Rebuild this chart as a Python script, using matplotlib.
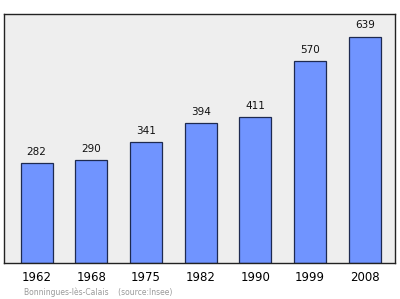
import matplotlib
matplotlib.use('Agg')
import matplotlib.pyplot as plt

years = ['1962', '1968', '1975', '1982', '1990', '1999', '2008']
population = [282, 290, 341, 394, 411, 570, 639]
caption = 'Bonningues-lès-Calais    (source:Insee)'

fig = plt.figure(figsize=(4.0, 2.99), dpi=100)
ax = fig.add_axes([4 / 400, 1 - 263 / 299, 391 / 400, 249 / 299])
ax.set_facecolor('#eeeeee')

pos = list(range(len(years)))
ax.bar(pos, population, width=0.585, color='#7094ff', edgecolor='#1e2a50', linewidth=0.9, zorder=2)
for x, v in zip(pos, population):
    ax.text(x, v + 18, str(v), ha='center', va='bottom', fontsize=7.5, color='#111111')

ax.set_xlim(-0.594, 6.55)
ax.set_ylim(0, 703)
ax.set_yticks([])
ax.set_xticks(pos)
ax.set_xticklabels(years, fontsize=8.5)
ax.tick_params(axis='x', length=0, pad=6)
for s in ax.spines.values():
    s.set_color('#222222')
    s.set_linewidth(1.0)

fig.text(24 / 400, 1 - 292 / 299, caption, fontsize=5.5, color='#999999', va='center', ha='left')

fig.savefig('out.png', dpi=100)
